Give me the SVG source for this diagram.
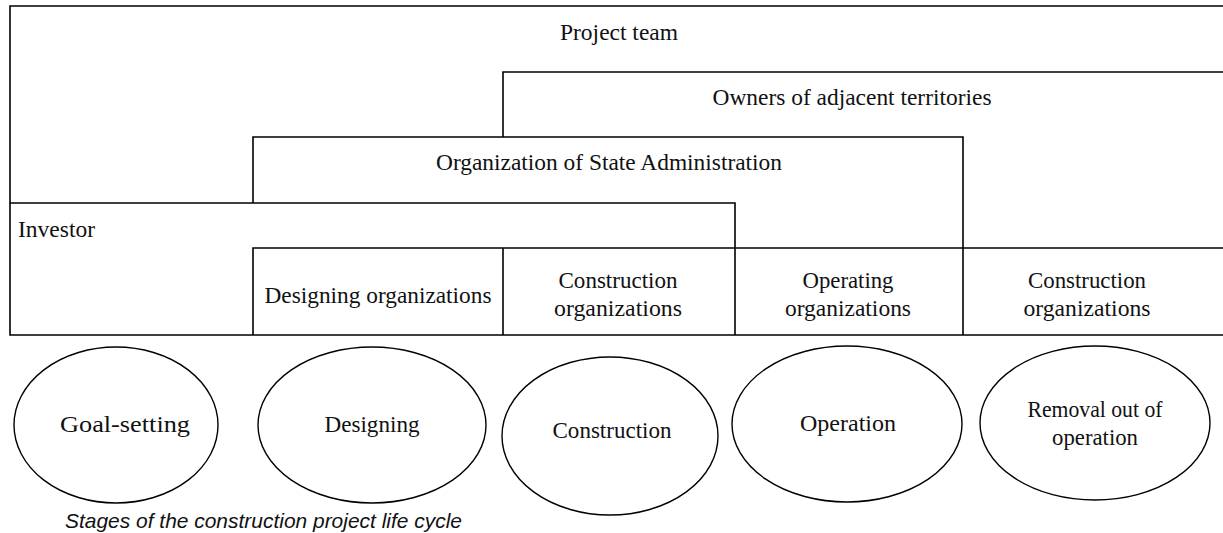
<svg xmlns="http://www.w3.org/2000/svg" width="1223" height="533" viewBox="0 0 1223 533">
<style>
.ln{fill:none;stroke:#000;stroke-width:1.6}
.el{fill:#fff;stroke:#000;stroke-width:1.4}
.t{font-family:"Liberation Serif","Times New Roman",serif;font-size:23px;fill:#111}
.c{text-anchor:middle}
.cap{font-family:"Liberation Sans",Arial,sans-serif;font-style:italic;font-size:21px;fill:#111}
</style>
<rect width="1223" height="533" fill="#fff"/>
<g id="connectors">
</g>
<g id="project-team">
<path class="ln" d="M1230,6 H10 V335 H1230"/>
<text class="t c" x="619" y="40" textLength="118" lengthAdjust="spacingAndGlyphs">Project team</text>
</g>
<g id="owners">
<path class="ln" d="M503,137 V72 H1230"/>
<text class="t c" x="852" y="105" textLength="279" lengthAdjust="spacingAndGlyphs">Owners of adjacent territories</text>
</g>
<g id="state-admin">
<path class="ln" d="M253,203 V137 H963 V248"/>
<text class="t c" x="609" y="170" textLength="346" lengthAdjust="spacingAndGlyphs">Organization of State Administration</text>
</g>
<g id="investor">
<path class="ln" d="M10,203 H735 V248"/>
<text class="t" x="18" y="237" textLength="77" lengthAdjust="spacingAndGlyphs">Investor</text>
</g>
<g id="designing-org">
<path class="ln" d="M253,335 V248 H1230"/>
<text class="t c" x="378" y="303" textLength="227" lengthAdjust="spacingAndGlyphs">Designing organizations</text>
</g>
<g id="construction-org-1">
<path class="ln" d="M503,248 V335"/>
<text class="t c" x="618" y="288" textLength="119" lengthAdjust="spacingAndGlyphs">Construction</text>
<text class="t c" x="618" y="316" textLength="128" lengthAdjust="spacingAndGlyphs">organizations</text>
</g>
<g id="operating-org">
<path class="ln" d="M735,248 V335"/>
<text class="t c" x="848" y="288" textLength="91" lengthAdjust="spacingAndGlyphs">Operating</text>
<text class="t c" x="848" y="316" textLength="126" lengthAdjust="spacingAndGlyphs">organizations</text>
</g>
<g id="construction-org-2">
<path class="ln" d="M963,248 V335"/>
<text class="t c" x="1087" y="288" textLength="118" lengthAdjust="spacingAndGlyphs">Construction</text>
<text class="t c" x="1087" y="316" textLength="127" lengthAdjust="spacingAndGlyphs">organizations</text>
</g>
<g id="goal-setting">
<ellipse class="el" cx="116" cy="425" rx="102" ry="78"/>
<text class="t c" x="125" y="432" textLength="130" lengthAdjust="spacingAndGlyphs">Goal-setting</text>
</g>
<g id="designing">
<ellipse class="el" cx="372" cy="425" rx="114" ry="78"/>
<text class="t c" x="372" y="432" textLength="95" lengthAdjust="spacingAndGlyphs">Designing</text>
</g>
<g id="construction">
<ellipse class="el" cx="610" cy="436" rx="108" ry="79"/>
<text class="t c" x="612" y="438" textLength="119" lengthAdjust="spacingAndGlyphs">Construction</text>
</g>
<g id="operation">
<ellipse class="el" cx="847" cy="424" rx="115" ry="78"/>
<text class="t c" x="848" y="431" textLength="96" lengthAdjust="spacingAndGlyphs">Operation</text>
</g>
<g id="removal">
<ellipse class="el" cx="1095" cy="423" rx="115" ry="77"/>
<text class="t c" x="1095" y="417" textLength="135" lengthAdjust="spacingAndGlyphs">Removal out of</text>
<text class="t c" x="1095" y="445" textLength="86" lengthAdjust="spacingAndGlyphs">operation</text>
</g>
<text class="cap" x="65" y="528" textLength="397" lengthAdjust="spacingAndGlyphs">Stages of the construction project life cycle</text>
</svg>
